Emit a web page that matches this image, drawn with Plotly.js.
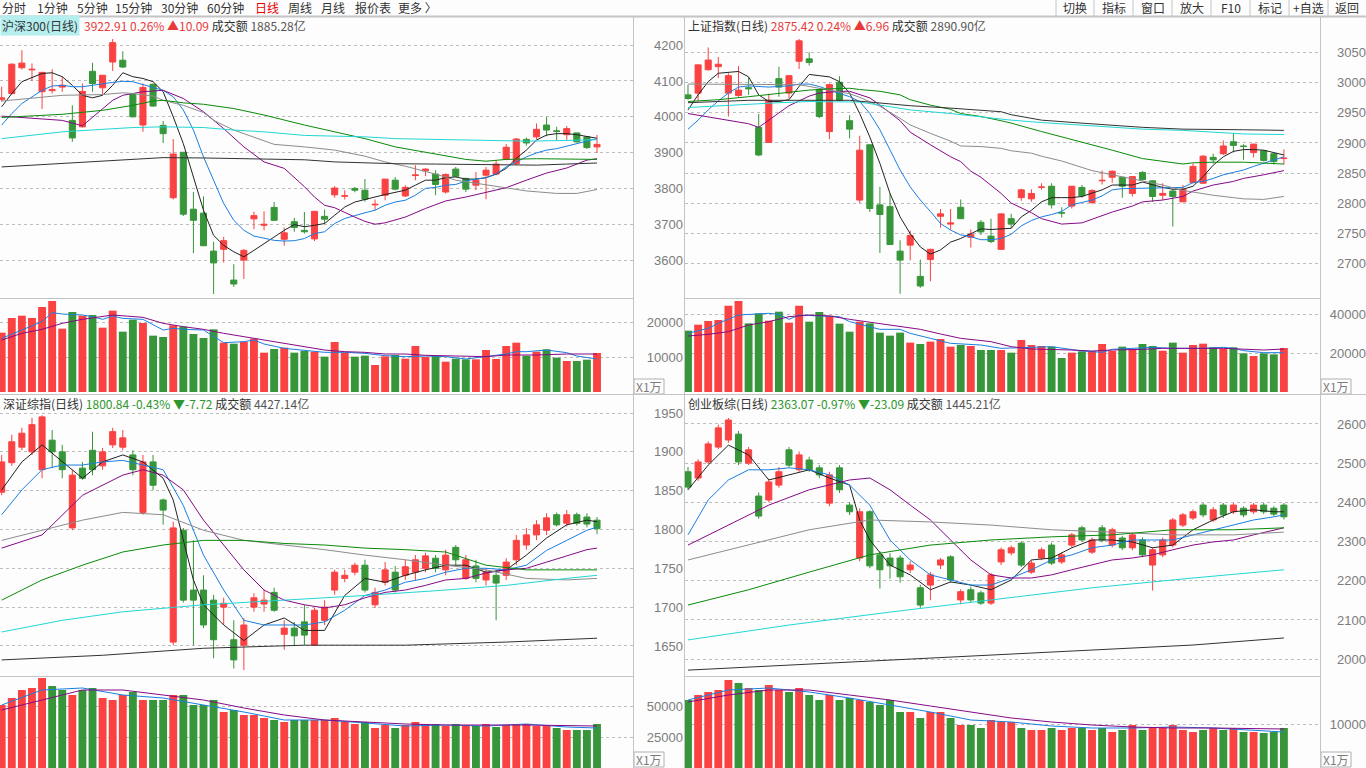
<!DOCTYPE html>
<html>
<head>
<meta charset="utf-8">
<script src="https://cdn.plot.ly/plotly-3.0.1.min.js"></script>
<style>
html, body { margin: 0; padding: 0; background: #fdfdfd; }
#chart { width: 1366px; height: 768px; }
</style>
</head>
<body>
<div id="chart"></div>
<script>
// ---------- 沪深300 ----------
const hsOpen  = [4049,4065,4137,4131,4070,4073,4083,3990,3972,4127,4081,4153,4158,4063,3977,4091,3976,3774,3901,3742,3731,3625,3630,3544,3600,3715,3697,3747,3658,3707,3683,3659,3722,3782,3778,3800,3795,3754,3781,3823,3779,3836,3849,3840,3790,3854,3828,3809,3837,3840,3881,3869,3937,3944,3977,3961,3950,3955,3944,3916];
const hsHigh  = [4084,4149,4186,4149,4126,4133,4112,4032,4093,4151,4117,4217,4183,4064,4093,4093,3988,3938,3902,3790,3778,3651,3665,3588,3631,3735,3736,3762,3691,3718,3734,3737,3741,3806,3795,3804,3826,3769,3826,3832,3809,3865,3856,3851,3842,3860,3830,3846,3860,3879,3924,3941,3942,3981,4000,3972,3974,3955,3944,3949];
const hsLow   = [4042,4062,4132,4100,4022,4065,4070,3930,3970,4070,4063,4128,4137,3998,3958,4029,3927,3769,3723,3620,3639,3505,3593,3525,3547,3686,3683,3711,3640,3679,3674,3653,3701,3774,3769,3789,3763,3739,3767,3795,3776,3823,3834,3781,3786,3832,3790,3795,3770,3837,3879,3865,3919,3937,3946,3935,3935,3928,3910,3899];
const hsClose = [4053,4147,4150,4133,4124,4076,4088,3941,4071,4093,4116,4207,4139,4000,4082,4030,3953,3896,3728,3711,3640,3592,3654,3533,3627,3724,3700,3711,3676,3691,3679,3736,3714,3801,3780,3795,3770,3756,3826,3798,3803,3838,3854,3811,3839,3834,3798,3823,3851,3868,3915,3938,3927,3965,3963,3959,3967,3930,3914,3923];
const hsVol   = [16952,21143,21810,21143,24286,26000,18095,22857,21810,22000,18381,23238,17238,20667,19714,16095,15714,19048,18667,16571,15429,17905,14095,13810,14381,15238,11238,12286,12667,11238,11714,11524,10095,14286,11238,10095,10381,7714,10190,10571,9524,13143,10000,10286,8667,9524,9333,9333,12000,9429,13143,14095,10381,11524,12190,9810,8857,8857,9238,11143];
const hsMa5   = [[0,4028],[1,4065],[2,4098],[3,4110],[4,4121],[5,4123],[6,4112],[7,4088],[8,4060],[9,4053],[10,4060],[11,4088],[12,4123],[13,4112],[14,4107],[15,4098],[16,4070],[17,4000],[18,3925],[19,3832],[20,3739],[21,3669],[22,3641],[23,3623],[24,3609],[25,3627],[26,3646],[27,3665],[28,3683],[29,3699],[30,3693],[31,3697],[32,3702],[33,3725],[34,3748],[35,3762],[36,3770],[37,3776],[38,3783],[39,3790],[40,3795],[41,3809],[42,3823],[43,3823],[44,3830],[45,3832],[46,3826],[47,3826],[48,3830],[49,3840],[50,3856],[51,3884],[52,3907],[53,3935],[54,3949],[55,3953],[56,3953],[57,3950],[58,3944],[59,3940]];
const hsMa10  = [[0,3977],[1,4009],[2,4037],[3,4056],[4,4074],[5,4086],[6,4088],[7,4084],[8,4084],[9,4088],[10,4093],[11,4096],[12,4099],[13,4098],[14,4090],[15,4082],[16,4074],[17,4056],[18,4019],[19,3963],[20,3888],[21,3823],[22,3758],[23,3711],[24,3683],[25,3667],[26,3660],[27,3655],[28,3653],[29,3654],[30,3660],[31,3674],[32,3679],[33,3702],[34,3716],[35,3725],[36,3732],[37,3739],[38,3753],[39,3762],[40,3767],[41,3781],[42,3800],[43,3803],[44,3809],[45,3811],[46,3821],[47,3826],[48,3830],[49,3840],[50,3860],[51,3874],[52,3888],[53,3899],[54,3907],[55,3911],[56,3918],[57,3925],[58,3933],[59,3939]];
const hsMa20  = [[0,4002],[2,3998],[4,3995],[6,3990],[8,3975],[10,4022],[11,4046],[12,4060],[14,4070],[16,4074],[18,4051],[20,4014],[22,3967],[24,3916],[26,3874],[28,3856],[30,3805],[31,3776],[32,3753],[33,3746],[34,3732],[35,3720],[36,3708],[37,3700],[38,3704],[40,3720],[42,3744],[44,3765],[46,3776],[48,3789],[50,3802],[52,3823],[54,3843],[56,3857],[58,3879],[59,3883]];
const hsMa30  = [[0,4044],[3,4051],[6,4060],[10,4062],[12,4067],[13,4065],[15,4058],[16,4046],[18,4032],[20,4012],[21,3990],[23,3963],[25,3944],[27,3923],[30,3916],[33,3907],[36,3890],[38,3874],[40,3862],[43,3840],[45,3823],[48,3810],[49,3804],[52,3793],[55,3786],[57,3786],[59,3797]];
const hsMa60  = [[0,3998],[3,4002],[6,4007],[10,4018],[13,4032],[15,4044],[16,4046],[18,4039],[20,4035],[23,4023],[26,4005],[30,3977],[33,3958],[36,3939],[39,3916],[43,3897],[46,3881],[48,3876],[50,3881],[53,3883],[56,3883],[59,3881]];
const hsMa120 = [[0,3939],[3,3949],[6,3958],[10,3965],[13,3970],[16,3972],[20,3970],[23,3963],[26,3958],[30,3948],[36,3944],[39,3939],[45,3935],[49,3933],[52,3932],[56,3934],[59,3936]];
const hsMa250 = [[0,3860],[3,3865],[6,3871],[10,3876],[13,3882],[16,3886],[20,3885],[23,3883],[26,3881],[30,3880],[33,3874],[36,3871],[39,3869],[43,3868],[46,3867],[49,3865],[53,3865],[56,3868],[59,3871]];
const hsVolMa5  = [[0,15333],[2,17714],[4,20095],[5,22667],[6,22286],[8,22000],[9,21524],[10,20762],[11,21714],[12,21048],[14,20762],[16,17714],[17,18190],[18,17905],[20,17714],[22,14095],[24,14381],[25,14857],[26,13714],[28,12476],[30,11810],[32,11333],[34,11333],[36,11048],[38,10381],[40,10095],[42,10286],[44,10095],[46,9429],[48,10095],[50,10857],[51,11524],[52,11524],[54,12000],[56,11238],[57,10286],[59,9429]];
const hsVolMa10 = [[0,14857],[2,16762],[4,17905],[6,19619],[8,20762],[11,22000],[14,21333],[16,19619],[18,18667],[20,17905],[22,16762],[24,15810],[26,14857],[28,13905],[30,12762],[32,12000],[34,11524],[36,11333],[38,10857],[40,10857],[42,10476],[44,10286],[46,10095],[48,10095],[50,10571],[53,10571],[56,10857],[59,10857]];

// ---------- 上证指数 ----------
const shOpen  = [2980,2983,3022,3027,2983,2979,2992,2926,2901,3007,2983,3036,3040,2989,2919,3001,2937,2805,2897,2797,2794,2720,2730,2678,2706,2778,2765,2793,2743,2768,2745,2723,2774,2809,2807,2826,2828,2784,2795,2826,2801,2837,2843,2843,2816,2851,2837,2813,2820,2802,2834,2833,2876,2882,2902,2895,2884,2887,2882,2874];
const shHigh  = [2997,3030,3059,3043,3016,3028,3008,2948,2982,3027,3012,3073,3051,2991,2999,3011,2946,2912,2897,2827,2816,2738,2754,2706,2724,2790,2790,2806,2756,2772,2774,2782,2782,2824,2823,2833,2833,2793,2828,2830,2823,2854,2854,2843,2845,2853,2838,2833,2824,2830,2866,2880,2882,2904,2916,2898,2899,2887,2884,2889];
const shLow   = [2972,2969,3020,3008,2944,2977,2980,2878,2900,2977,2974,3023,3029,2941,2906,2970,2908,2800,2785,2717,2731,2649,2705,2659,2670,2759,2756,2774,2726,2747,2733,2723,2758,2804,2802,2822,2791,2776,2791,2809,2798,2831,2834,2809,2811,2838,2802,2805,2761,2802,2833,2832,2866,2880,2884,2872,2876,2869,2864,2864];
const shClose = [2974,3030,3038,3031,3012,2988,2990,2880,2971,2993,3012,3070,3034,2944,2997,2971,2923,2888,2791,2781,2731,2705,2746,2662,2723,2782,2767,2774,2748,2752,2736,2782,2765,2822,2816,2827,2797,2783,2828,2812,2821,2838,2853,2828,2844,2839,2811,2816,2811,2823,2861,2878,2872,2895,2896,2894,2898,2871,2869,2875];
const shVol   = [31453,34530,36410,36923,44274,46667,35214,40342,36581,41197,35556,44274,36068,41026,39145,35043,30940,36068,35214,30427,28889,30427,25299,24615,25812,27179,23248,24103,23590,21538,21538,21538,20171,26667,24103,23590,23248,17436,20171,20855,21026,24615,21026,23248,21880,24615,23590,21197,25299,20171,24103,24786,22906,22222,22906,19829,18462,19829,19316,22564];
const shMa5   = [[0,2955],[1,2980],[2,3002],[3,3016],[5,3019],[6,3010],[7,2980],[8,2969],[9,2969],[10,2972],[11,2994],[12,3014],[13,3012],[14,3010],[15,3002],[16,2983],[17,2949],[18,2910],[19,2866],[20,2816],[21,2777],[22,2749],[23,2727],[24,2715],[25,2722],[26,2735],[27,2741],[28,2749],[29,2757],[30,2756],[31,2757],[32,2758],[33,2777],[34,2788],[35,2802],[36,2809],[37,2809],[38,2809],[39,2811],[40,2816],[41,2822],[42,2830],[43,2830],[44,2830],[45,2835],[46,2830],[47,2826],[48,2823],[49,2823],[50,2828],[51,2844],[52,2863],[53,2877],[54,2886],[55,2889],[56,2889],[57,2888],[58,2884],[59,2880]];
const shMa10  = [[0,2923],[1,2938],[2,2955],[3,2970],[4,2983],[5,2993],[6,2995],[8,2993],[10,2995],[11,2998],[12,2998],[13,2994],[14,2988],[15,2983],[16,2977],[17,2969],[18,2949],[19,2922],[20,2888],[21,2855],[22,2827],[23,2805],[24,2786],[25,2766],[26,2755],[27,2747],[28,2744],[29,2739],[30,2739],[31,2741],[32,2748],[33,2762],[34,2771],[35,2777],[36,2781],[37,2786],[38,2797],[39,2801],[40,2805],[41,2812],[42,2822],[43,2824],[45,2825],[49,2826],[50,2834],[51,2836],[52,2841],[53,2847],[54,2851],[55,2855],[56,2861],[57,2866],[58,2872],[59,2877]];
const shMa20  = [[0,2949],[3,2941],[6,2932],[7,2926],[8,2938],[10,2962],[12,2978],[13,2983],[15,2986],[16,2986],[18,2975],[19,2963],[21,2937],[22,2918],[24,2897],[26,2877],[27,2869],[28,2853],[29,2843],[30,2830],[31,2816],[32,2800],[34,2784],[35,2774],[37,2765],[39,2767],[40,2773],[42,2785],[44,2795],[45,2802],[47,2805],[49,2811],[50,2820],[52,2830],[54,2836],[55,2841],[57,2847],[59,2854]];
const shMa30  = [[0,2998],[6,2998],[9,2997],[11,2997],[12,2994],[14,2988],[16,2982],[17,2976],[19,2961],[21,2941],[22,2930],[24,2916],[26,2903],[27,2895],[29,2894],[31,2891],[32,2887],[34,2883],[35,2878],[37,2870],[39,2860],[40,2854],[42,2847],[44,2840],[45,2837],[47,2830],[49,2821],[50,2818],[52,2813],[54,2809],[55,2807],[57,2806],[59,2811]];
const shMa60  = [[0,2969],[3,2972],[6,2977],[9,2983],[11,2986],[12,2988],[14,2990],[16,2991],[17,2989],[19,2986],[21,2980],[22,2972],[24,2963],[26,2956],[27,2949],[29,2944],[31,2937],[32,2933],[35,2919],[39,2902],[42,2888],[45,2874],[47,2869],[49,2865],[50,2867],[52,2868],[55,2868],[59,2865]];
const shMa120 = [[0,2959],[3,2962],[6,2965],[9,2967],[12,2969],[16,2969],[17,2968],[19,2963],[22,2955],[26,2949],[29,2943],[32,2938],[35,2934],[39,2930],[42,2927],[45,2923],[49,2921],[52,2918],[55,2915],[59,2914]];
const shMa250 = [[0,2967],[3,2969],[6,2971],[16,2971],[19,2967],[22,2962],[26,2958],[29,2954],[31,2952],[32,2947],[35,2938],[39,2933],[42,2929],[45,2926],[49,2923],[52,2922],[55,2922],[59,2921]];
const shVolMa5  = [[0,30085],[2,32650],[3,35214],[5,39487],[8,40342],[9,39829],[10,37265],[11,39487],[13,38974],[15,38632],[16,36068],[18,33504],[19,32137],[21,32137],[22,30085],[24,27521],[26,24957],[29,24103],[31,22393],[34,22906],[36,23248],[39,21026],[41,20342],[42,21880],[44,22393],[46,22906],[48,22393],[51,22393],[53,22906],[54,22393],[55,21197],[57,20171],[59,20171]];
const shVolMa10 = [[0,28718],[2,29573],[4,30940],[6,34359],[8,36068],[10,38632],[12,39487],[14,38974],[16,37265],[19,35214],[21,33846],[23,32137],[25,29744],[27,27521],[30,25812],[32,23248],[34,22051],[36,21880],[38,21538],[40,21026],[42,21538],[45,21880],[47,22393],[53,22393],[55,21880],[57,21538],[59,22051]];

// ---------- 深证综指 ----------
const szOpen  = [1848,1886,1906,1900,1877,1915,1900,1802,1879,1902,1882,1909,1906,1896,1822,1887,1838,1655,1799,1722,1722,1709,1700,1658,1651,1700,1704,1719,1665,1673,1681,1651,1683,1722,1737,1745,1754,1703,1732,1745,1741,1745,1750,1763,1748,1777,1737,1753,1735,1741,1741,1761,1780,1793,1799,1819,1808,1819,1816,1812];
const szHigh  = [1896,1922,1931,1944,1947,1928,1909,1877,1887,1926,1905,1931,1928,1902,1896,1896,1840,1810,1802,1786,1741,1716,1712,1683,1686,1718,1722,1725,1683,1681,1703,1699,1709,1748,1748,1757,1761,1725,1758,1753,1761,1767,1770,1767,1774,1780,1767,1761,1750,1748,1763,1793,1802,1812,1821,1822,1825,1822,1821,1816];
const szLow   = [1844,1882,1902,1896,1866,1879,1866,1799,1864,1870,1877,1905,1902,1870,1819,1851,1806,1651,1706,1651,1673,1634,1677,1621,1619,1694,1694,1694,1645,1651,1651,1650,1677,1716,1732,1741,1719,1699,1728,1719,1735,1735,1745,1745,1741,1754,1735,1732,1728,1683,1735,1754,1774,1786,1793,1804,1804,1805,1803,1794];
const szClose = [1887,1913,1924,1935,1945,1900,1877,1870,1866,1877,1900,1926,1918,1877,1887,1857,1825,1802,1709,1709,1677,1658,1705,1632,1677,1712,1709,1696,1673,1663,1664,1696,1700,1745,1741,1754,1722,1719,1748,1722,1752,1761,1766,1750,1767,1761,1761,1737,1745,1731,1758,1786,1793,1806,1815,1806,1819,1808,1807,1801];
const szVol   = [50810,56455,62907,64520,72585,66133,62907,58875,62907,64520,56455,54842,58875,61294,54842,54842,54842,58875,58875,50810,50810,54842,45164,46777,42745,42745,40325,38712,37099,38712,38712,38712,38712,40325,37099,35486,37099,32260,34680,32260,34680,37099,35486,35486,33873,35486,33873,33873,35486,33067,34680,35486,35486,33873,33873,32260,30647,30647,30647,35486];
const szMa5   = [[0,1851],[2,1887],[4,1909],[6,1887],[8,1866],[10,1887],[12,1896],[14,1887],[16,1866],[17,1838],[18,1786],[19,1735],[20,1703],[22,1677],[24,1657],[26,1677],[28,1686],[30,1670],[32,1670],[34,1715],[36,1737],[38,1732],[40,1741],[42,1748],[44,1754],[46,1754],[48,1745],[50,1748],[52,1767],[54,1789],[56,1806],[58,1812],[59,1810]];
const szMa10  = [[0,1819],[2,1851],[4,1877],[6,1883],[8,1883],[10,1887],[12,1889],[14,1883],[16,1877],[18,1831],[20,1767],[22,1722],[24,1683],[26,1677],[30,1677],[32,1681],[34,1696],[36,1715],[38,1722],[40,1732],[42,1737],[44,1745],[46,1750],[48,1750],[50,1748],[52,1754],[54,1773],[56,1786],[58,1799],[59,1803]];
const szMa20  = [[0,1776],[4,1793],[8,1844],[12,1870],[14,1877],[16,1870],[18,1851],[20,1812],[22,1780],[24,1748],[26,1722],[28,1709],[30,1703],[32,1699],[34,1703],[36,1712],[38,1719],[40,1722],[42,1728],[44,1735],[46,1737],[48,1744],[50,1748],[52,1750],[54,1758],[56,1766],[58,1774],[59,1776]];
const szMa30  = [[0,1786],[4,1799],[8,1812],[12,1822],[16,1819],[20,1799],[24,1786],[28,1780],[32,1774],[36,1767],[40,1761],[44,1754],[48,1748],[52,1737],[56,1735],[59,1737]];
const szMa60  = [[0,1709],[4,1735],[8,1754],[12,1771],[16,1780],[20,1786],[24,1786],[28,1782],[32,1780],[36,1776],[40,1774],[44,1771],[48,1754],[52,1748],[59,1748]];
const szMa120 = [[0,1668],[6,1683],[12,1694],[20,1703],[28,1709],[36,1715],[44,1722],[50,1728],[56,1737],[59,1741]];
const szMa250 = [[0,1632],[10,1638],[20,1647],[30,1651],[40,1651],[50,1655],[59,1660]];
const szVolMa5  = [[0,50810],[4,62907],[8,64520],[12,58875],[16,56455],[20,50810],[24,45164],[28,38712],[32,38712],[36,36293],[40,33873],[44,34680],[48,33873],[52,35486],[56,33067],[59,32260]];
const szVolMa10 = [[0,46777],[4,54842],[8,62907],[12,62907],[16,58875],[20,54842],[24,48390],[28,42745],[32,38712],[36,37099],[40,35486],[44,34680],[52,34680],[59,33873]];

// ---------- 创业板综 ----------
const cyOpen  = [2478,2462,2503,2541,2559,2574,2500,2416,2406,2444,2534,2483,2508,2488,2398,2488,2393,2258,2376,2266,2258,2258,2228,2182,2189,2240,2261,2151,2177,2169,2143,2248,2271,2296,2222,2258,2291,2248,2291,2335,2273,2335,2291,2309,2284,2304,2240,2266,2291,2342,2360,2393,2355,2393,2376,2385,2376,2393,2385,2393];
const cyHigh  = [2490,2510,2556,2598,2615,2582,2541,2425,2460,2490,2541,2530,2516,2495,2478,2495,2400,2385,2380,2275,2270,2265,2250,2190,2222,2258,2265,2178,2185,2175,2220,2285,2290,2300,2252,2285,2297,2272,2322,2340,2310,2342,2335,2315,2322,2310,2285,2310,2360,2373,2382,2398,2388,2398,2398,2390,2398,2398,2390,2398];
const cyLow   = [2432,2455,2498,2536,2552,2495,2495,2358,2400,2437,2490,2478,2478,2462,2390,2424,2368,2250,2232,2180,2205,2195,2220,2130,2150,2230,2195,2140,2145,2138,2138,2240,2265,2235,2218,2252,2240,2243,2285,2300,2268,2298,2285,2278,2278,2260,2175,2260,2285,2337,2355,2362,2350,2360,2370,2362,2370,2370,2365,2356];
const cyClose = [2439,2503,2549,2590,2610,2503,2534,2365,2452,2478,2495,2521,2483,2470,2470,2432,2376,2376,2238,2228,2238,2210,2240,2138,2215,2253,2202,2172,2151,2143,2215,2279,2284,2240,2245,2279,2245,2266,2317,2304,2304,2304,2330,2284,2317,2266,2279,2304,2355,2368,2376,2368,2381,2368,2393,2368,2393,2376,2370,2363];
const cyVol   = [15455,16591,17273,17727,20000,19318,18182,17727,18864,17727,17273,18182,16591,15455,16591,15455,15909,15455,15000,14318,15455,12727,12727,11364,12727,12727,11364,9773,9773,9091,10909,10455,10455,9091,8636,8636,9091,8636,9091,9091,8636,9091,8182,8636,9773,8636,9091,9091,9773,8636,8182,8636,9091,8636,9091,8182,8182,7955,8182,9091];
const cyMa5   = [[0,2432],[2,2495],[4,2546],[6,2521],[8,2457],[10,2470],[12,2483],[14,2462],[16,2444],[17,2355],[18,2304],[20,2240],[22,2215],[24,2177],[26,2197],[28,2189],[30,2177],[32,2202],[34,2253],[36,2258],[38,2284],[40,2304],[42,2304],[44,2299],[46,2284],[48,2291],[50,2330],[52,2355],[54,2376],[56,2381],[58,2376],[59,2376]];
const cyMa10  = [[0,2317],[2,2406],[4,2457],[6,2483],[8,2483],[10,2488],[12,2483],[14,2470],[16,2444],[18,2393],[20,2304],[22,2253],[24,2215],[26,2202],[28,2189],[30,2189],[32,2207],[34,2228],[36,2253],[38,2266],[40,2284],[42,2291],[44,2304],[48,2304],[50,2317],[52,2330],[54,2342],[56,2355],[58,2363],[59,2368]];
const cyMa20  = [[0,2291],[4,2342],[8,2393],[12,2432],[16,2457],[18,2462],[20,2432],[22,2393],[24,2355],[26,2304],[28,2253],[30,2215],[32,2207],[34,2207],[36,2215],[38,2228],[40,2240],[42,2253],[44,2258],[46,2266],[48,2279],[50,2291],[52,2299],[54,2304],[56,2317],[58,2330],[59,2335]];
const cyMa30  = [[0,2253],[6,2291],[12,2330],[18,2355],[24,2350],[30,2342],[36,2330],[42,2324],[48,2317],[54,2317],[59,2324]];
const cyMa60  = [[0,2138],[6,2177],[12,2222],[18,2266],[24,2291],[30,2304],[36,2312],[42,2317],[48,2330],[54,2330],[59,2335]];
const cyMa120 = [[0,2049],[10,2087],[20,2120],[30,2151],[40,2182],[50,2207],[59,2228]];
const cyMa250 = [[0,1972],[10,1985],[20,1998],[30,2011],[40,2023],[50,2036],[59,2054]];
const cyVolMa5  = [[0,15455],[4,17727],[8,18182],[12,17273],[16,15909],[20,14318],[24,12727],[28,10909],[32,10455],[36,9545],[40,9091],[44,9091],[48,9318],[52,9091],[56,8636],[59,8182]];
const cyVolMa10 = [[0,15000],[4,16591],[8,17727],[12,17727],[16,16591],[20,15455],[24,14091],[28,12727],[32,11364],[36,10455],[40,9773],[44,9318],[48,9091],[52,9091],[56,8864],[59,8864]];

const W = 1366, H = 768;
const RED = '#fa4242', GREEN = '#37963a';
const maColors = ['#222222', '#1a7fe0', '#850a85', '#8c8c8c', '#0a8a0a', '#22d6d6', '#333333'];
const px = v => v / W;
const py = v => 1 - v / H;

const traces = [];
const layout = {
    width: W, height: H,
    margin: {l: 0, r: 0, t: 0, b: 0},
    paper_bgcolor: '#fdfdfd', plot_bgcolor: 'rgba(0,0,0,0)',
    showlegend: false, barmode: 'overlay', hovermode: false,
    font: {family: 'Noto Sans CJK SC, Liberation Sans, sans-serif', size: 12, color: '#333'},
    annotations: [], shapes: []
};
let axisCount = 0;

function addPanel(p) {
    const a = ++axisCount, b = ++axisCount;
    const xa = 'x' + a, ya = 'y' + a, xb = 'x' + b, yb = 'y' + b;
    const idx = p.close.map((_, i) => i);
    const cols = p.close.map((c, i) => c >= p.open[i] ? RED : GREEN);
    const xr = [(p.left - p.first) / p.step, (p.right - p.first) / p.step];
    const xDom = [px(p.left), px(p.right)];
    layout['xaxis' + a] = {domain: xDom, range: xr, visible: false, anchor: ya, fixedrange: true};
    layout['xaxis' + b] = {domain: xDom, range: xr, visible: false, anchor: yb, fixedrange: true};
    const yBase = {
        anchor: 'free', position: px(p.labelX), side: 'left',
        showline: false, zeroline: false, ticks: '', tickformat: 'd',
        gridcolor: '#bdbdbd', griddash: 'dot', gridwidth: 1,
        tickfont: {family: 'Liberation Sans, Arial, sans-serif', size: 13, color: '#7c7c7c'},
        fixedrange: true
    };
    layout['yaxis' + a] = Object.assign({}, yBase, {domain: [py(p.mainBottom), py(p.mainTop)], range: p.yRange, tickvals: p.yTicks});
    layout['yaxis' + b] = Object.assign({}, yBase, {domain: [py(p.volBottom), py(p.volTop)], range: p.vRange, tickvals: p.vTicks});

    // wicks, then bodies
    traces.push({type: 'bar', x: idx, base: p.low, y: p.high.map((h, i) => h - p.low[i]),
        width: 0.1, marker: {color: cols}, xaxis: xa, yaxis: ya});
    traces.push({type: 'bar', x: idx,
        base: p.open.map((o, i) => Math.min(o, p.close[i])),
        y: p.open.map((o, i) => Math.abs(p.close[i] - o)),
        width: 0.6, marker: {color: cols, line: {color: cols, width: 1}}, xaxis: xa, yaxis: ya});
    p.ma.forEach((m, i) => traces.push({type: 'scatter', mode: 'lines',
        x: m.map(d => d[0]), y: m.map(d => d[1]),
        line: {color: maColors[i], width: 1}, xaxis: xa, yaxis: ya}));

    traces.push({type: 'bar', x: idx, y: p.vol, width: 0.78, marker: {color: cols}, xaxis: xb, yaxis: yb});
    [p.volMa5, p.volMa10].forEach((m, i) => traces.push({type: 'scatter', mode: 'lines',
        x: m.map(d => d[0]), y: m.map(d => d[1]),
        line: {color: i === 0 ? '#1a7fe0' : '#850a85', width: 1}, xaxis: xb, yaxis: yb}));

    // header
    if (p.nameBg) {
        layout.annotations.push({xref: 'paper', yref: 'paper', x: px(p.left), y: py(p.mainTop - 8),
            xanchor: 'left', yanchor: 'middle', showarrow: false, text: p.name,
            bgcolor: p.nameBg, borderpad: 1, font: {size: 12, color: '#333'}});
    }
    layout.annotations.push({xref: 'paper', yref: 'paper', x: px(p.left + (p.nameBg ? 82 : 1)), y: py(p.mainTop - 8),
        xanchor: 'left', yanchor: 'middle', showarrow: false,
        text: (p.nameBg ? '' : p.name + ' ') + p.info, font: {size: 12, color: '#333'}});
    // X1万 box
    const boxBottom = Math.min(p.volBottom + 2, H - 1);
    layout.shapes.push({type: 'rect', xref: 'paper', yref: 'paper',
        x0: px(p.right + 1), x1: px(p.right + 31), y0: py(boxBottom), y1: py(boxBottom - 15),
        line: {color: '#b0b0b0', width: 1}, fillcolor: 'rgba(0,0,0,0)'});
    layout.annotations.push({xref: 'paper', yref: 'paper', x: px(p.right + 16), y: py(boxBottom - 7.5),
        xanchor: 'center', yanchor: 'middle', showarrow: false, text: 'X1万', font: {size: 12, color: '#7c7c7c'}});
}

const redT = s => '<span style="color:#e83a3a">' + s + '</span>';
const grnT = s => '<span style="color:#2e962e">' + s + '</span>';

addPanel({name: '沪深300(日线)', nameBg: '#b4eeee',
    info: redT('3922.91 0.26% ▲10.09') + ' 成交额 <span style="color:#555">1885.28亿</span>',
    open: hsOpen, high: hsHigh, low: hsLow, close: hsClose, vol: hsVol,
    ma: [hsMa5, hsMa10, hsMa20, hsMa30, hsMa60, hsMa120, hsMa250], volMa5: hsVolMa5, volMa10: hsVolMa10,
    left: 0, right: 633, first: 1.7, step: 10.09, labelX: 683,
    mainTop: 33, mainBottom: 298, volTop: 300, volBottom: 392,
    yRange: [3494, 4234], yTicks: [3600, 3700, 3800, 3900, 4000, 4100, 4200],
    vRange: [0, 26286], vTicks: [10000, 20000]});

addPanel({name: '上证指数(日线)',
    info: redT('2875.42 0.24% ▲6.96') + ' 成交额 <span style="color:#555">2890.90亿</span>',
    open: shOpen, high: shHigh, low: shLow, close: shClose, vol: shVol,
    ma: [shMa5, shMa10, shMa20, shMa30, shMa60, shMa120, shMa250], volMa5: shVolMa5, volMa10: shVolMa10,
    left: 685, right: 1320, first: 688, step: 10.1, labelX: 1366,
    mainTop: 33, mainBottom: 298, volTop: 300, volBottom: 392,
    yRange: [2642, 3083], yTicks: [2700, 2750, 2800, 2850, 2900, 2950, 3000, 3050],
    vRange: [0, 47180], vTicks: [20000, 40000]});

addPanel({name: '深证综指(日线)',
    info: grnT('1800.84 -0.43% ▼-7.72') + ' 成交额 <span style="color:#555">4427.14亿</span>',
    open: szOpen, high: szHigh, low: szLow, close: szClose, vol: szVol,
    ma: [szMa5, szMa10, szMa20, szMa30, szMa60, szMa120, szMa250], volMa5: szVolMa5, volMa10: szVolMa10,
    left: 0, right: 633, first: 1.7, step: 10.09, labelX: 683,
    mainTop: 411, mainBottom: 676, volTop: 678, volBottom: 768,
    yRange: [1611.3, 1952.6], yTicks: [1650, 1700, 1750, 1800, 1850, 1900, 1950],
    vRange: [0, 72585], vTicks: [25000, 50000]});

addPanel({name: '创业板综(日线)',
    info: grnT('2363.07 -0.97% ▼-23.09') + ' 成交额 <span style="color:#555">1445.21亿</span>',
    open: cyOpen, high: cyHigh, low: cyLow, close: cyClose, vol: cyVol,
    ma: [cyMa5, cyMa10, cyMa20, cyMa30, cyMa60, cyMa120, cyMa250], volMa5: cyVolMa5, volMa10: cyVolMa10,
    left: 685, right: 1320, first: 688, step: 10.1, labelX: 1366,
    mainTop: 411, mainBottom: 676, volTop: 678, volBottom: 768,
    yRange: [1957, 2633], yTicks: [2000, 2100, 2200, 2300, 2400, 2500, 2600],
    vRange: [0, 20455], vTicks: [10000]});

// toolbar
const menuItems = ['分时', '1分钟', '5分钟', '15分钟', '30分钟', '60分钟', '日线', '周线', '月线', '报价表', '更多 〉'];
const menuX = [0, 35, 75, 113, 159, 205, 253, 286, 319, 353, 396];
menuItems.forEach((t, i) => layout.annotations.push({xref: 'paper', yref: 'paper', x: px(menuX[i]), y: py(8),
    xanchor: 'left', yanchor: 'middle', showarrow: false, text: t,
    font: {size: 12, color: t === '日线' ? '#e60000' : '#333'}}));
const buttons = ['切换', '指标', '窗口', '放大', 'F10', '标记', '+自选', '返回'];
const buttonX = [1056, 1094, 1133, 1172, 1211, 1250, 1289, 1328, 1366];
buttons.forEach((t, i) => {
    layout.annotations.push({xref: 'paper', yref: 'paper', x: px((buttonX[i] + buttonX[i + 1]) / 2), y: py(8),
        xanchor: 'center', yanchor: 'middle', showarrow: false, text: t, font: {size: 12, color: '#333'}});
    layout.shapes.push({type: 'line', xref: 'paper', yref: 'paper', x0: px(buttonX[i]), x1: px(buttonX[i]),
        y0: py(0), y1: py(16), line: {color: '#c4c4c4', width: 1}});
});

// frame lines
const hLine = (y, x0, x1, w) => layout.shapes.push({type: 'line', xref: 'paper', yref: 'paper',
    x0: px(x0), x1: px(x1), y0: py(y), y1: py(y), line: {color: '#c4c4c4', width: w || 1}});
const vLine = (x, y0, y1) => layout.shapes.push({type: 'line', xref: 'paper', yref: 'paper',
    x0: px(x), x1: px(x), y0: py(y0), y1: py(y1), line: {color: '#c4c4c4', width: 1}});
hLine(16.5, 0, W, 2);
hLine(298.5, 0, 633.5);
hLine(298.5, 684.5, 1320.5);
hLine(394.5, 0, W);
hLine(676.5, 0, 633.5);
hLine(676.5, 684.5, 1320.5);
vLine(633.5, 17, H);
vLine(684.5, 17, H);
vLine(1320.5, 17, H);

Plotly.newPlot('chart', traces, layout, {staticPlot: true});
</script>
</body>
</html>
